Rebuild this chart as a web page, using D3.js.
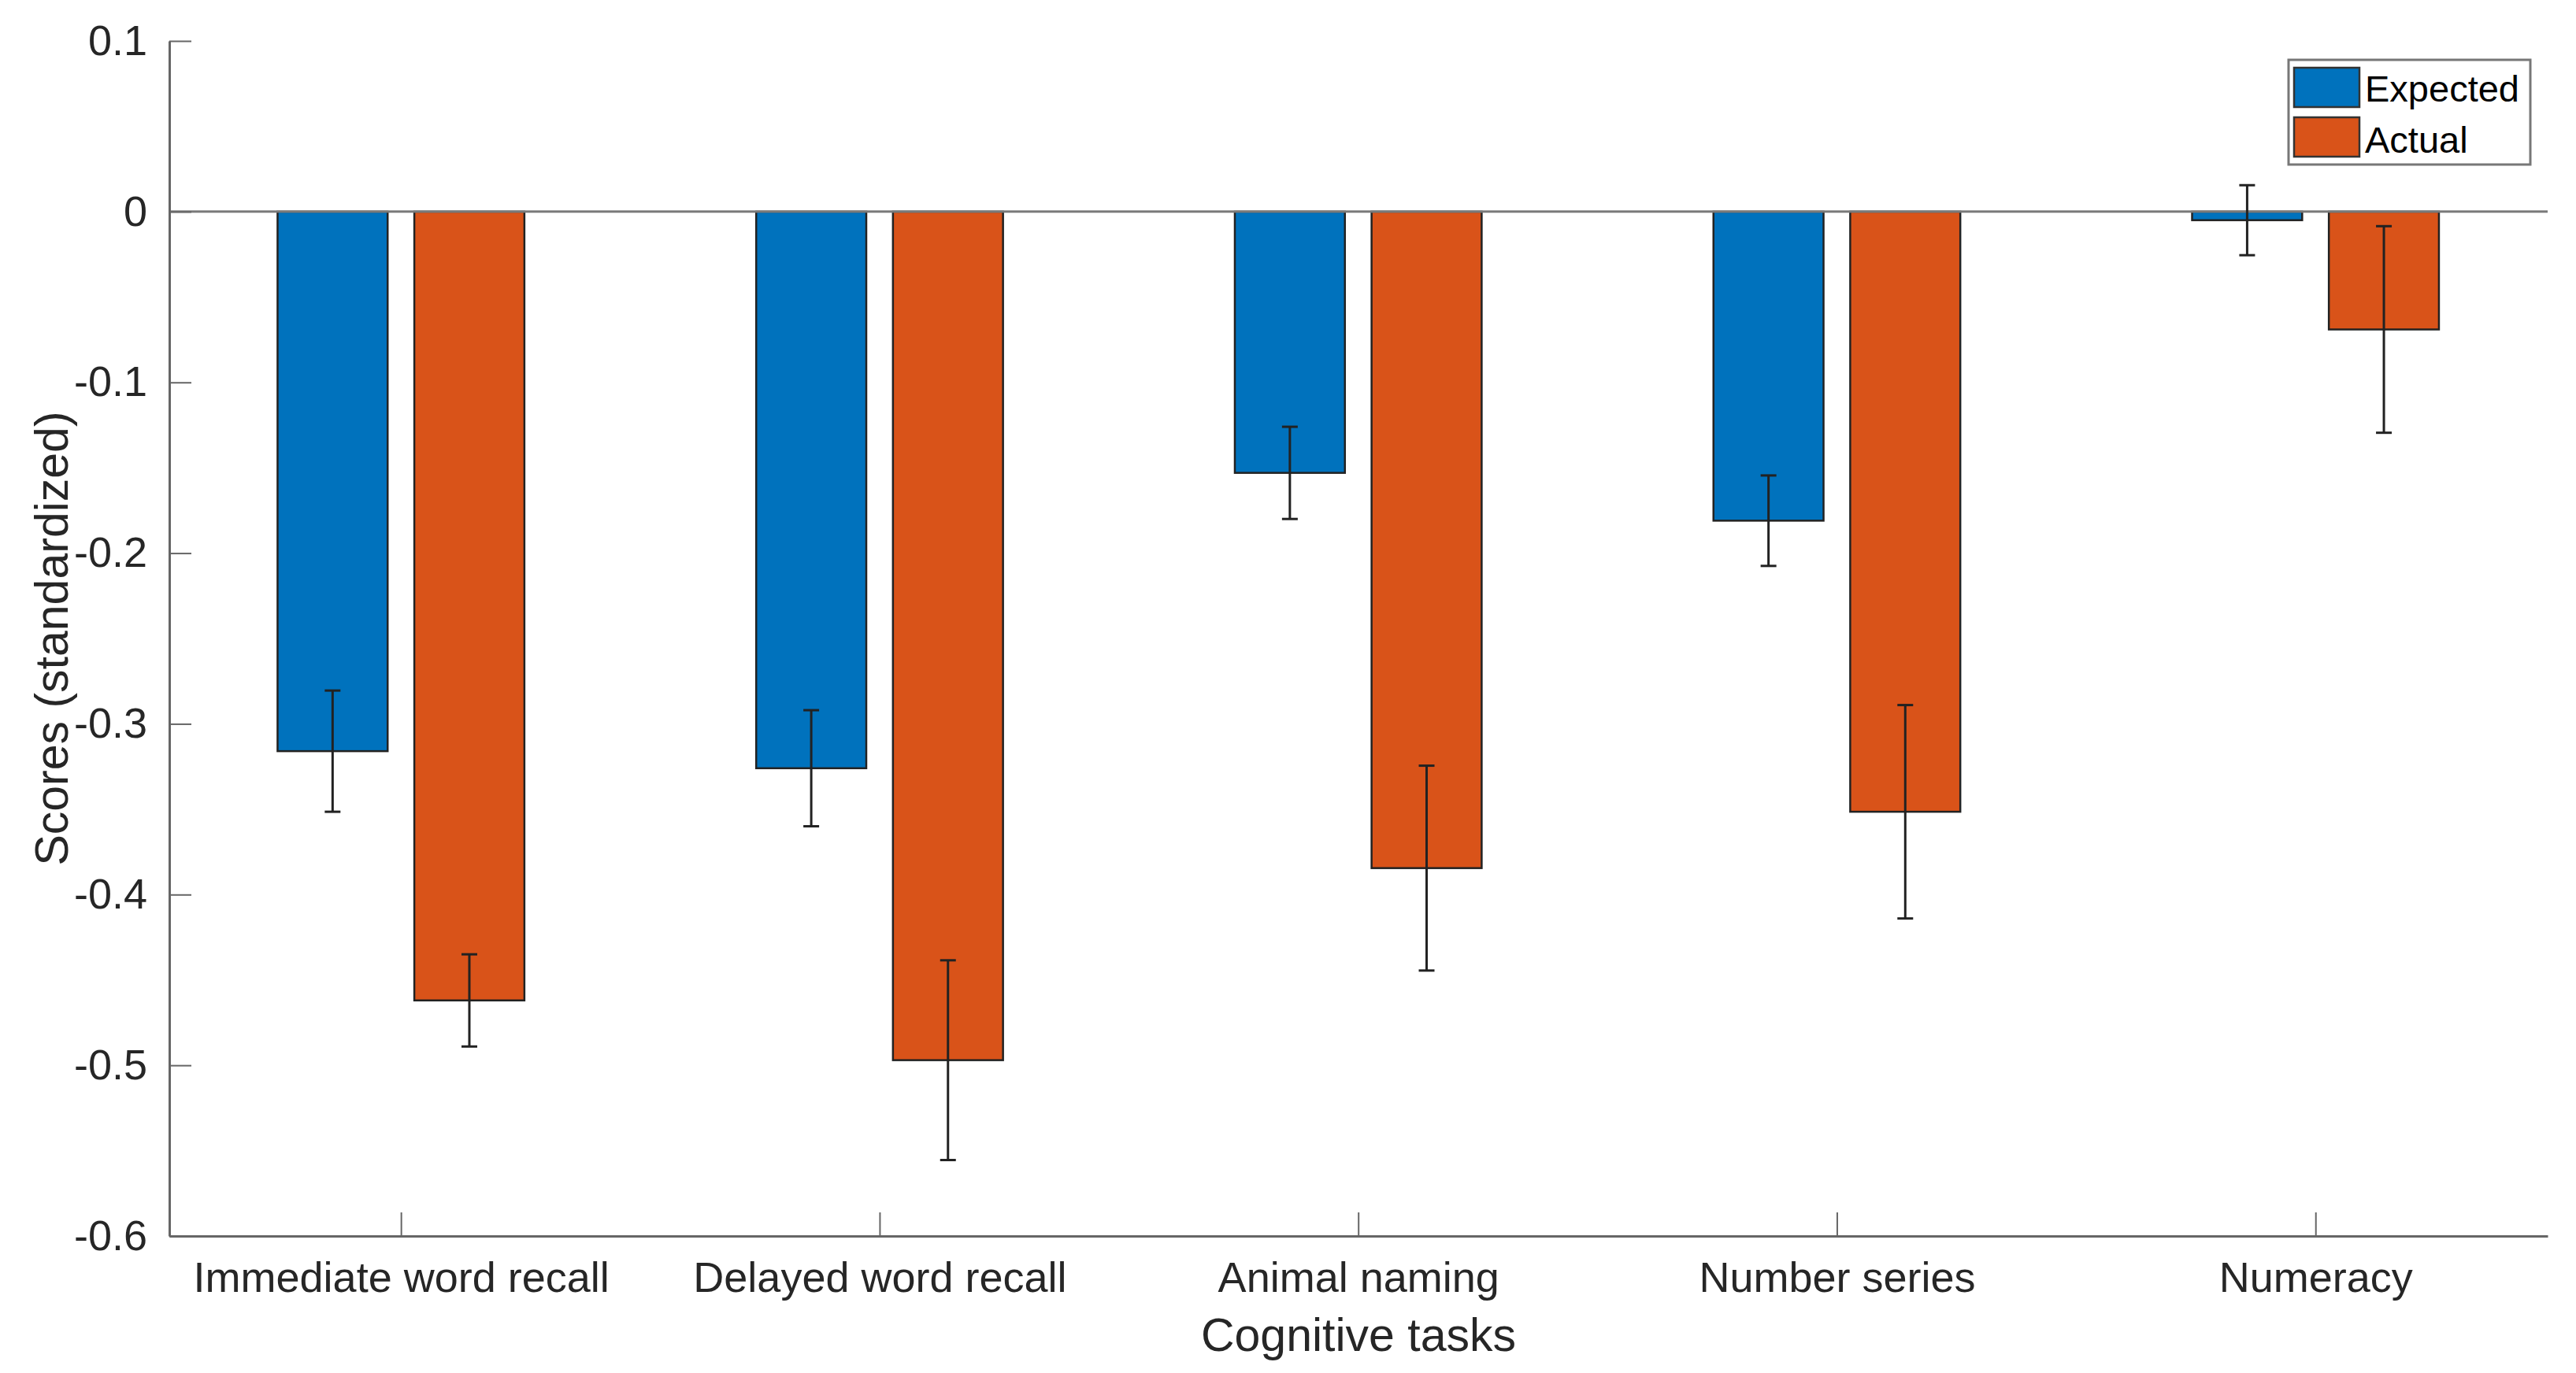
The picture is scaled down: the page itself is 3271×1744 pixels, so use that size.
<!DOCTYPE html>
<meta charset="utf-8">
<script src="https://d3js.org/d3.v7.min.js"></script>
<style>
  body { margin: 0; background: #fff; }
  text { font-family: "Liberation Sans", Arial, sans-serif; }
</style>
<div id="chart"></div>
<script>
    // categories and values
    var categories = ["Immediate word recall", "Delayed word recall", "Animal naming", "Number series", "Numeracy"];
    var seriesNames = ["Expected", "Actual"];
    var expected = [-0.316, -0.326, -0.153, -0.181, -0.005];
    var expectedErr = [0.0355, 0.034, 0.027, 0.0265, 0.0205];
    var actual = [-0.462, -0.497, -0.3845, -0.3515, -0.069];
    var actualErr = [0.027, 0.0585, 0.06, 0.0625, 0.0605];
    var yTicks = [0.1, 0, -0.1, -0.2, -0.3, -0.4, -0.5, -0.6];
    var yTickLabels = ["0.1", "0", "-0.1", "-0.2", "-0.3", "-0.4", "-0.5", "-0.6"];

    var colors = ["#0072BD", "#D95319"];
    var textColor = "#262626";
    var axisColor = "#666";

    var W = 3271, H = 1744;
    var svg = d3.select("#chart").append("svg")
        .attr("width", W)
        .attr("height", H);

    svg.append("rect").attr("width", W).attr("height", H).attr("fill", "#fff");

    // scales (MATLAB-like xlim around the 5 categories)
    var x = d3.scaleLinear().domain([0.516, 5.485]).range([215, 3235]);
    var y = d3.scaleLinear().domain([-0.6, 0.1]).range([1570, 52]);

    var offset = 1 / 7, barW = 0.23;

    var rows = [];
    categories.forEach(function (c, i) {
        rows.push({cat: i + 1, s: 0, v: expected[i], e: expectedErr[i]});
        rows.push({cat: i + 1, s: 1, v: actual[i], e: actualErr[i]});
    });

    function cx(d) { return x(d.cat + (d.s === 0 ? -offset : offset)); }

    // bars
    svg.selectAll(".bar")
        .data(rows)
        .enter()
        .append("rect")
        .attr("class", "bar")
        .attr("x", function (d) { return cx(d) - (x(barW) - x(0)) / 2; })
        .attr("width", x(barW) - x(0))
        .attr("y", function (d) { return Math.min(y(d.v), y(0)); })
        .attr("height", function (d) { return Math.abs(y(d.v) - y(0)); })
        .attr("fill", function (d) { return colors[d.s]; })
        .attr("stroke", "#222")
        .attr("stroke-width", 2.5);

    // baseline at zero
    svg.append("line")
        .attr("x1", x.range()[0]).attr("x2", x.range()[1])
        .attr("y1", y(0)).attr("y2", y(0))
        .attr("stroke", "#7a7a7a")
        .attr("stroke-width", 3);

    // error bars
    var eb = svg.selectAll(".err").data(rows).enter().append("g").attr("class", "err")
        .attr("stroke", "#222").attr("stroke-width", 3);
    eb.append("line")
        .attr("x1", cx).attr("x2", cx)
        .attr("y1", function (d) { return y(d.v + d.e); })
        .attr("y2", function (d) { return y(d.v - d.e); });
    eb.append("line")
        .attr("x1", function (d) { return cx(d) - 10; }).attr("x2", function (d) { return cx(d) + 10; })
        .attr("y1", function (d) { return y(d.v + d.e); }).attr("y2", function (d) { return y(d.v + d.e); });
    eb.append("line")
        .attr("x1", function (d) { return cx(d) - 10; }).attr("x2", function (d) { return cx(d) + 10; })
        .attr("y1", function (d) { return y(d.v - d.e); }).attr("y2", function (d) { return y(d.v - d.e); });

    // y axis, ticks pointing inward
    var yAxis = svg.append("g")
        .attr("transform", "translate(" + x.range()[0] + ",0)")
        .call(d3.axisLeft(y)
            .tickValues(yTicks)
            .tickFormat(function (d, i) { return yTickLabels[i]; })
            .tickSizeInner(-28)
            .tickSizeOuter(0)
            .tickPadding(28));

    // x axis
    var xAxis = svg.append("g")
        .attr("transform", "translate(0," + y(-0.6) + ")")
        .call(d3.axisBottom(x)
            .tickValues(d3.range(1, categories.length + 1))
            .tickFormat(function (d) { return categories[d - 1]; })
            .tickSizeInner(-30)
            .tickSizeOuter(0)
            .tickPadding(33));

    [yAxis, xAxis].forEach(function (a) {
        a.select(".domain").attr("stroke", axisColor).attr("stroke-width", 3);
        a.selectAll(".tick line").attr("stroke", axisColor).attr("stroke-width", 2);
        a.selectAll(".tick text")
            .attr("fill", textColor)
            .attr("font-size", "54px")
            .style("font-family", "'Liberation Sans', Arial, sans-serif");
    });

    // axis titles
    svg.append("text")
        .attr("x", (x.range()[0] + x.range()[1]) / 2)
        .attr("y", 1716)
        .attr("text-anchor", "middle")
        .attr("font-size", "59px")
        .attr("fill", textColor)
        .text("Cognitive tasks");

    svg.append("text")
        .attr("transform", "translate(86," + ((y(0.1) + y(-0.6)) / 2) + ") rotate(-90)")
        .attr("text-anchor", "middle")
        .attr("font-size", "59px")
        .attr("fill", textColor)
        .text("Scores (standardized)");

    // legend
    var legend = svg.append("g").attr("transform", "translate(2906,76)");
    legend.append("rect")
        .attr("width", 307).attr("height", 133)
        .attr("fill", "#fff")
        .attr("stroke", "#777")
        .attr("stroke-width", 3);
    seriesNames.forEach(function (name, i) {
        legend.append("rect")
            .attr("x", 7).attr("y", 10 + i * 63)
            .attr("width", 83).attr("height", 50)
            .attr("fill", colors[i])
            .attr("stroke", "#333")
            .attr("stroke-width", 2.5);
        legend.append("text")
            .attr("x", 97).attr("y", 53 + i * 65)
            .attr("font-size", "47px")
            .attr("fill", "#000")
            .text(name);
    });
</script>
